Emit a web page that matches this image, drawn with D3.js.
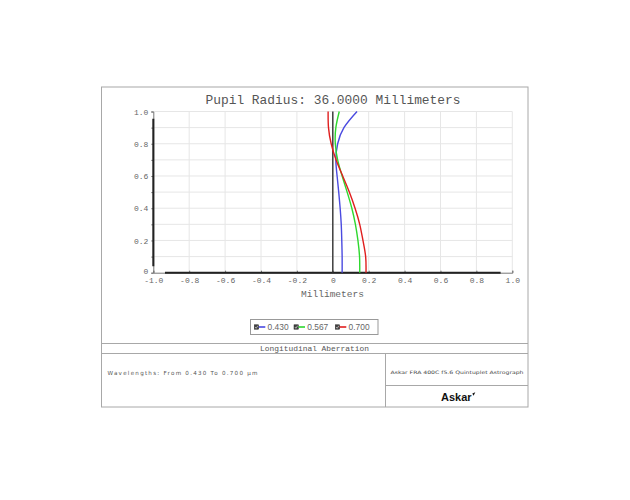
<!DOCTYPE html>
<html>
<head>
<meta charset="utf-8">
<script src="https://cdn.jsdelivr.net/npm/d3@7"></script>
<style>
html,body{margin:0;padding:0;background:#fff;}
svg{display:block;}
</style>
</head>
<body>
<svg id="chart" width="630" height="500"></svg>
<script>
// ---- data ----
const pupil = [0, 0.1, 0.2, 0.3, 0.4, 0.5, 0.6, 0.7, 0.8, 0.9, 1.0];
const wavelengths = ["0.430", "0.567", "0.700"];
const aberr430 = [0.052, 0.052, 0.050, 0.047, 0.041, 0.033, 0.024, 0.017, 0.027, 0.062, 0.135];
const aberr567 = [0.150, 0.149, 0.140, 0.126, 0.106, 0.080, 0.052, 0.027, 0.014, 0.017, 0.036];
const aberr700 = [0.185, 0.183, 0.168, 0.150, 0.124, 0.092, 0.055, 0.018, -0.009, -0.024, -0.026];
const xTicks = [-1.0, -0.8, -0.6, -0.4, -0.2, 0, 0.2, 0.4, 0.6, 0.8, 1.0];
const xTickLabels = ["-1.0", "-0.8", "-0.6", "-0.4", "-0.2", "0", "0.2", "0.4", "0.6", "0.8", "1.0"];
const yTicks = [0, 0.2, 0.4, 0.6, 0.8, 1.0];
const yTickLabels = ["0", "0.2", "0.4", "0.6", "0.8", "1.0"];
const yGrid = [0.1, 0.2, 0.3, 0.4, 0.5, 0.6, 0.7, 0.8, 0.9, 1.0];
const titleText = "Pupil Radius: 36.0000 Millimeters";
const xLabel = "Millimeters";
const plotName = "Longitudinal Aberration";
const wlText = "Wavelengths: From 0.430 To 0.700 \u00b5m";
const lensText = "Askar FRA 400C f5.6 Quintuplet Astrograph";
const brand = "Askar";

const series = [
  {name: wavelengths[0], values: aberr430, color: "#4a4ae0"},
  {name: wavelengths[1], values: aberr567, color: "#2ed82e"},
  {name: wavelengths[2], values: aberr700, color: "#e01e1e"}
];

const svg = d3.select("#chart");
const mono = "'Liberation Mono', 'DejaVu Sans Mono', monospace";
const sans = "'Liberation Sans', Arial, sans-serif";

const x = d3.scaleLinear().domain([-1, 1]).range([153.3, 512.3]);
const y = d3.scaleLinear().domain([0, 1]).range([272.7, 111.5]);

// outer frame and layout boxes
const frame = svg.append("g").attr("stroke", "#a8a8a8").attr("fill", "none").attr("stroke-width", 1);
frame.append("rect").attr("x", 101.5).attr("y", 87).attr("width", 426.5).attr("height", 320);
frame.append("line").attr("x1", 101.5).attr("x2", 528).attr("y1", 343.5).attr("y2", 343.5);
frame.append("line").attr("x1", 101.5).attr("x2", 528).attr("y1", 353.5).attr("y2", 353.5);
frame.append("line").attr("x1", 385.5).attr("x2", 385.5).attr("y1", 353.5).attr("y2", 407);
frame.append("line").attr("x1", 385.5).attr("x2", 528).attr("y1", 385.5).attr("y2", 385.5);

// grid
const grid = svg.append("g").attr("stroke", "#e6e6e6").attr("stroke-width", 1);
grid.selectAll(".vg").data(xTicks.filter(d => d > -1)).join("line")
  .attr("x1", d => x(d)).attr("x2", d => x(d)).attr("y1", y(1)).attr("y2", y(0));
grid.selectAll(".hg").data(yGrid).join("line")
  .attr("x1", x(-1)).attr("x2", x(1)).attr("y1", d => y(d)).attr("y2", d => y(d));

// axes (thin full lines with ticks)
const xAxis = d3.axisBottom(x).tickValues(xTicks).tickSize(-2).tickFormat((d, i) => xTickLabels[i]);
const gx = svg.append("g").attr("transform", `translate(0,${y(0)})`).call(xAxis);
gx.select(".domain").attr("stroke", "#777").attr("stroke-width", 1);
gx.selectAll(".tick line").attr("stroke", "#777");
gx.selectAll(".tick text").attr("font-family", mono).attr("font-size", 8).attr("fill", "#666").attr("dy", "0.55em").attr("y", 6.3);

const yAxis = d3.axisLeft(y).tickValues(yGrid.concat([0])).tickSize(2)
  .tickFormat(d => { const i = yTicks.findIndex(t => Math.abs(t - d) < 1e-9); return i >= 0 ? yTickLabels[i] : ""; });
const gy = svg.append("g").attr("transform", `translate(${x(-1)},0)`).call(yAxis);
gy.select(".domain").attr("stroke", "#777").attr("stroke-width", 1);
gy.selectAll(".tick line").attr("stroke", "#777");
gy.selectAll(".tick text").attr("font-family", mono).attr("font-size", 8).attr("fill", "#666").attr("x", -5)
  .attr("dy", d => d === 0 ? "0.15em" : "0.32em");

// thick axis segments
svg.append("line").attr("x1", x(-0.935)).attr("x2", x(0.935)).attr("y1", y(0)).attr("y2", y(0))
  .attr("stroke", "#222").attr("stroke-width", 2);
svg.append("line").attr("x1", x(-1)).attr("x2", x(-1)).attr("y1", y(0.04)).attr("y2", y(0.955))
  .attr("stroke", "#222").attr("stroke-width", 2);

// zero line
svg.append("line").attr("x1", x(0)).attr("x2", x(0)).attr("y1", y(0)).attr("y2", y(1))
  .attr("stroke", "#333").attr("stroke-width", 1.4);

// curves
const line = d3.line().x(d => x(d[0])).y(d => y(d[1])).curve(d3.curveNatural);
svg.append("g").selectAll("path").data(series).join("path")
  .attr("d", s => line(s.values.map((v, i) => [v, pupil[i]])))
  .attr("fill", "none").attr("stroke", s => s.color).attr("stroke-width", 1.4);

// title
svg.append("text").attr("x", 333).attr("y", 103.5).attr("text-anchor", "middle")
  .attr("font-family", mono).attr("font-size", 13).attr("fill", "#555")
  .attr("textLength", 255).attr("lengthAdjust", "spacingAndGlyphs").text(titleText);

// x label
svg.append("text").attr("x", 332.5).attr("y", 296.5).attr("text-anchor", "middle")
  .attr("font-family", mono).attr("font-size", 9.5).attr("fill", "#666")
  .attr("textLength", 63).attr("lengthAdjust", "spacingAndGlyphs").text(xLabel);

// legend
const lg = svg.append("g");
lg.append("rect").attr("x", 250.5).attr("y", 319.5).attr("width", 127.5).attr("height", 15)
  .attr("fill", "#fff").attr("stroke", "#999").attr("stroke-width", 1);
const lx = [254.3, 294, 335.3];
series.forEach((s, i) => {
  const g = lg.append("g").attr("transform", `translate(${lx[i]},327)`);
  g.append("rect").attr("x", 0).attr("y", -2.2).attr("width", 4.4).attr("height", 4.4).attr("fill", "#444").attr("stroke", "#222").attr("stroke-width", 0.5);
  g.append("path").attr("d", "M0.9,0 L1.9,1.3 L3.6,-1.3").attr("fill", "none").attr("stroke", "#ddd").attr("stroke-width", 0.7);
  g.append("line").attr("x1", 4.4).attr("x2", 11).attr("y1", 0).attr("y2", 0).attr("stroke", s.color).attr("stroke-width", 1.6);
  g.append("text").attr("x", 13.3).attr("y", 3).attr("font-family", sans).attr("font-size", 8.5)
    .attr("fill", "#666").attr("textLength", 21).attr("lengthAdjust", "spacingAndGlyphs").text(s.name);
});

// footer texts
svg.append("text").attr("x", 314.5).attr("y", 351.3).attr("text-anchor", "middle")
  .attr("font-family", mono).attr("font-size", 8).attr("fill", "#555")
  .attr("textLength", 109).attr("lengthAdjust", "spacingAndGlyphs").text(plotName);
svg.append("text").attr("x", 107.5).attr("y", 375.3)
  .attr("font-family", "'DejaVu Sans', sans-serif").attr("font-size", 5.6).attr("fill", "#555")
  .attr("textLength", 150).attr("lengthAdjust", "spacing").text(wlText);
svg.append("text").attr("x", 457).attr("y", 374).attr("text-anchor", "middle")
  .attr("font-family", "'DejaVu Sans', sans-serif").attr("font-size", 4.6).attr("fill", "#444")
  .attr("textLength", 133).attr("lengthAdjust", "spacingAndGlyphs").text(lensText);
svg.append("text").attr("x", 441).attr("y", 401).attr("font-family", sans).attr("font-weight", "bold")
  .attr("font-size", 11).attr("fill", "#111").attr("textLength", 30.5).attr("lengthAdjust", "spacingAndGlyphs").text(brand);
svg.append("path").attr("d", "M472.3,393.5 L475.3,392.2 L473.6,395.8 Z").attr("fill", "#111");
</script>
</body>
</html>
